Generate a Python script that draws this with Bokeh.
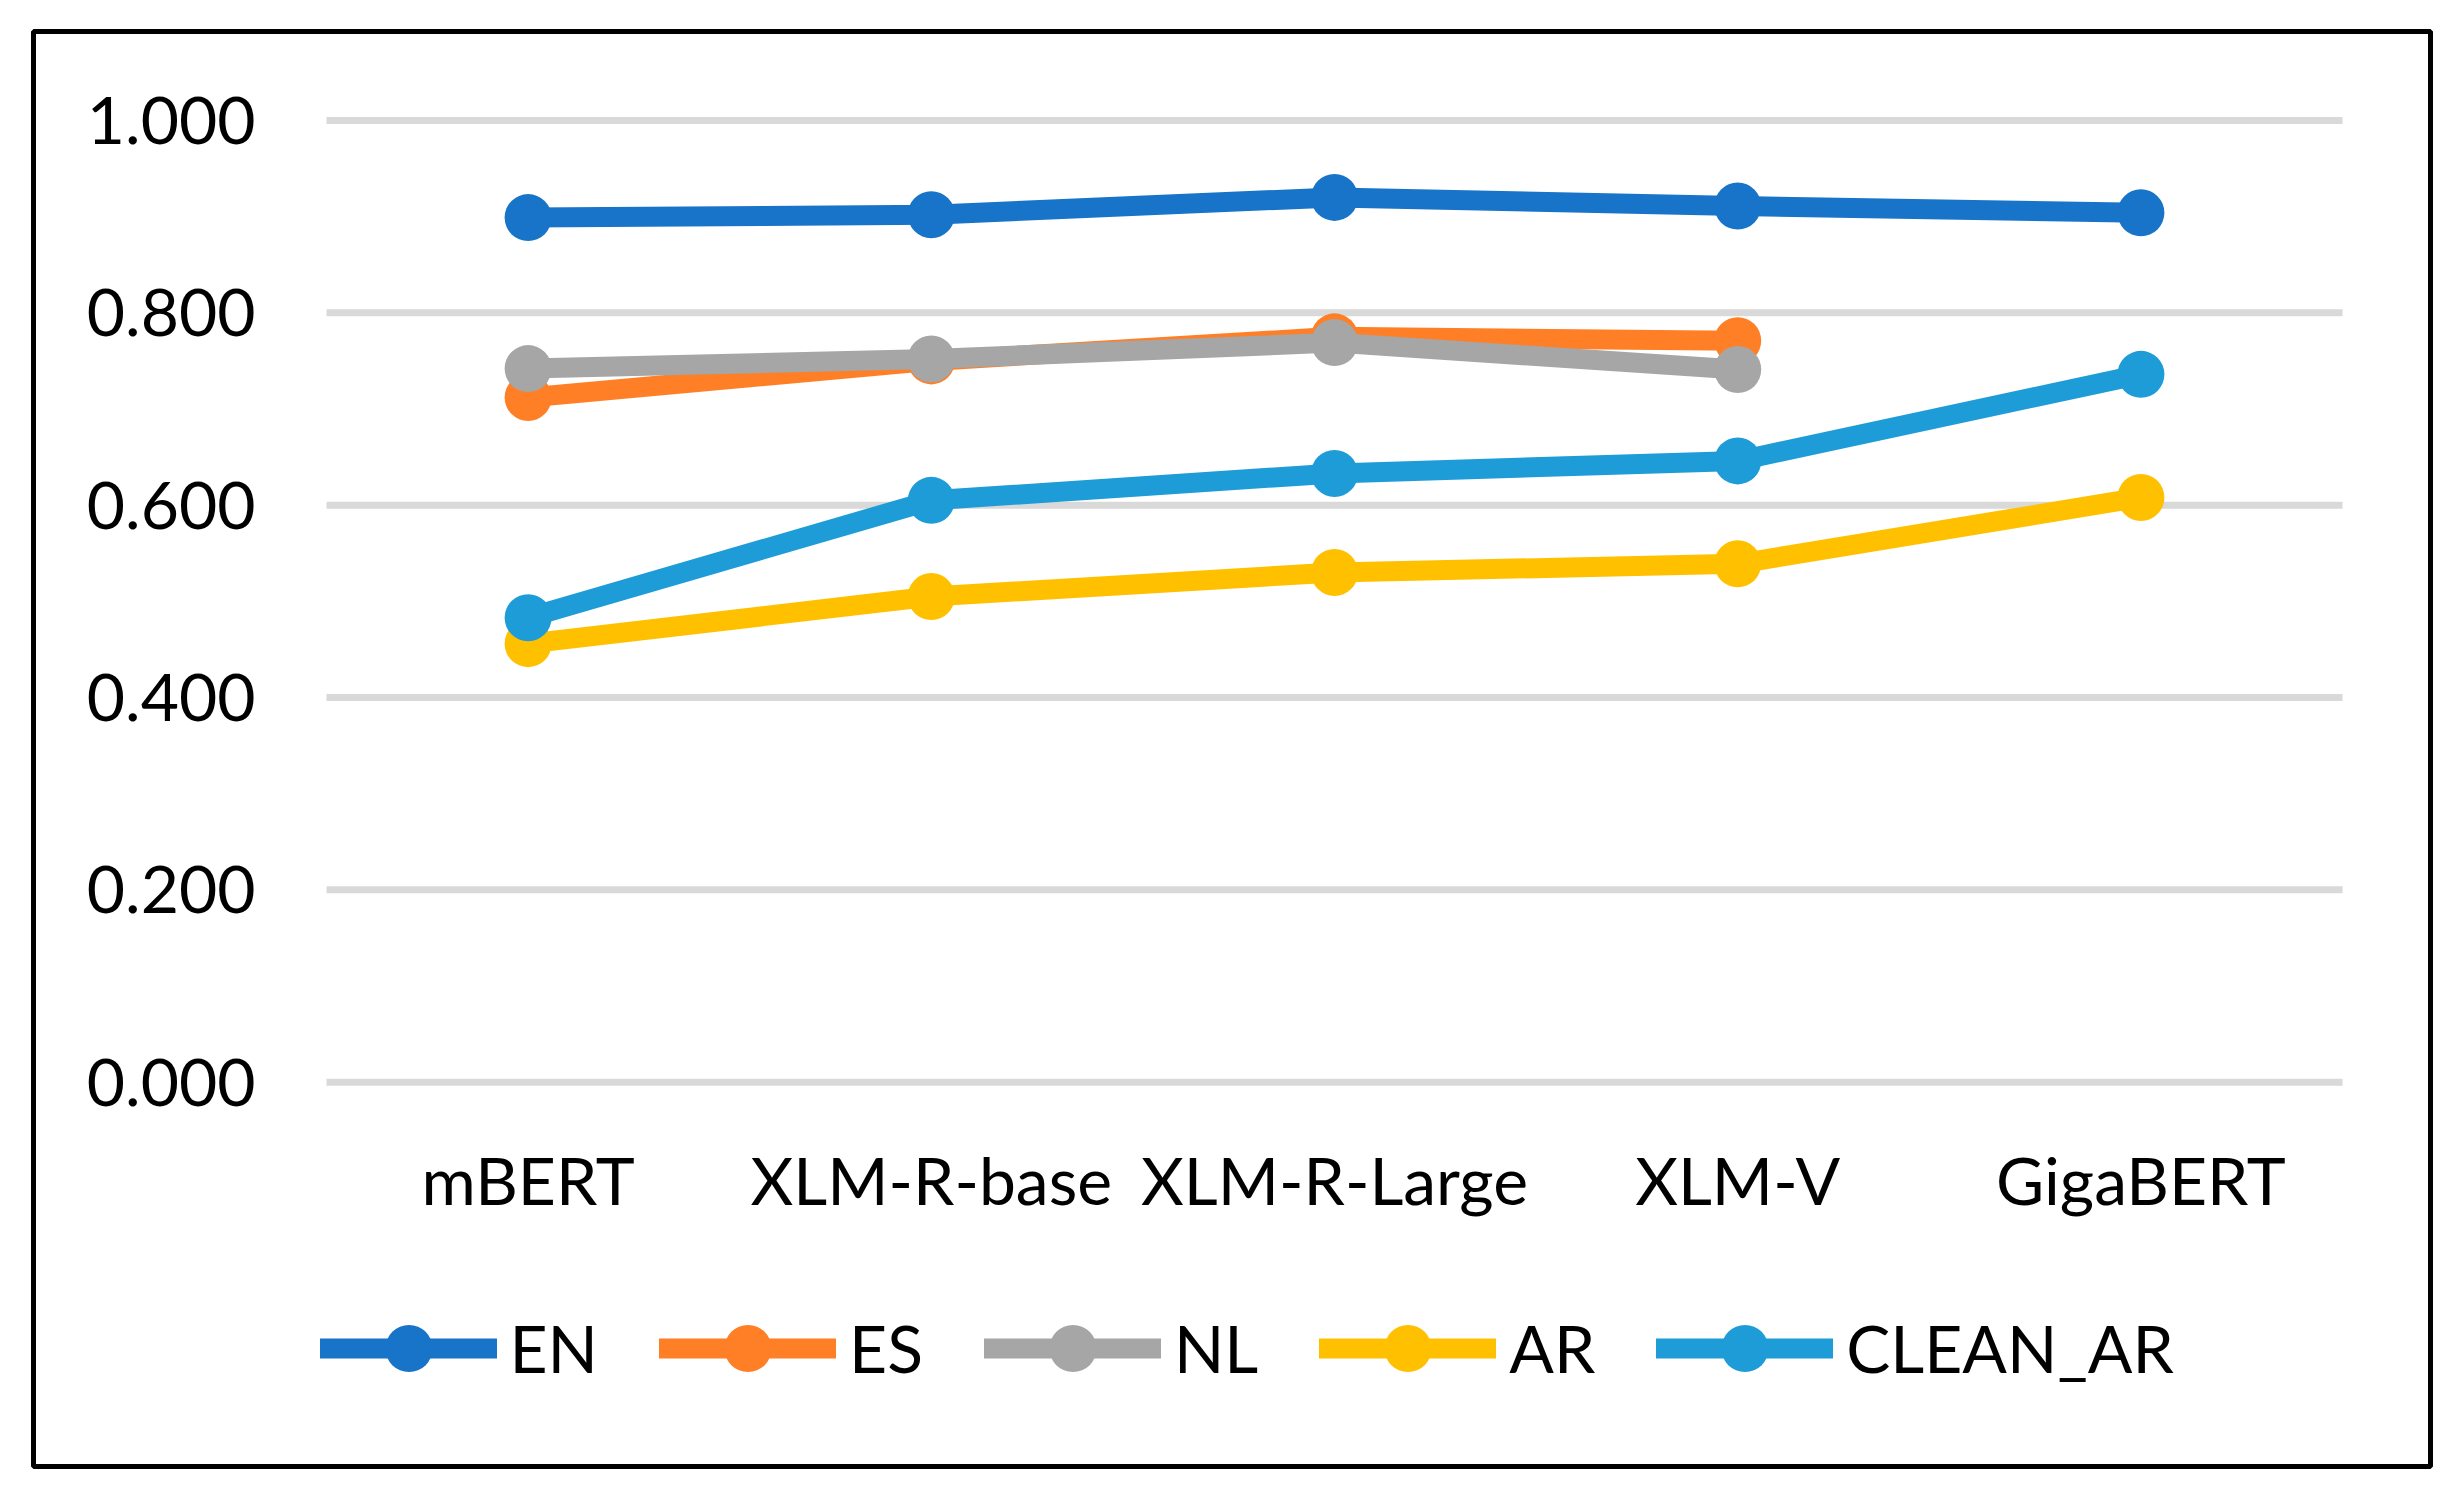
from bokeh.plotting import figure
from bokeh.models import Range1d, Legend, LegendItem
from bokeh.core.properties import value
from bokeh.embed import file_html
from bokeh.resources import INLINE

# ---- data ----
models = ["mBERT", "XLM-R-base", "XLM-R-Large", "XLM-V", "GigaBERT"]
en = [0.899, 0.902, 0.920, 0.911, 0.904]
es = [0.712, 0.750, 0.775, 0.771, None]
nl = [0.742, 0.752, 0.769, 0.741, None]
ar = [0.456, 0.505, 0.530, 0.539, 0.608]
clean_ar = [0.483, 0.605, 0.633, 0.646, 0.736]
series_names = ["EN", "ES", "NL", "AR", "CLEAN_AR"]
y_ticks = [0.0, 0.2, 0.4, 0.6, 0.8, 1.0]

colors = ["#1874C8", "#FF7F27", "#A6A6A6", "#FFC000", "#1E9CD7"]
FONT = "Lato"
FS = "66px"

# category positions (band centres) on a numeric x scale
xpos = list(range(len(models)))

# The frame is the whole bordered chart box; the plot area sits inside it.
p = figure(width=2440, height=1476,
           x_range=Range1d(-1.2267, 4.7182),
           y_range=Range1d(-0.3996, 1.0925),
           x_axis_location=None, y_axis_location=None,
           output_backend="svg", toolbar_location=None,
           min_border_left=33, min_border_right=10,
           min_border_top=31, min_border_bottom=10)

p.background_fill_color = "white"
p.border_fill_color = "white"
p.outline_line_color = "black"
p.outline_line_width = 5
p.grid.visible = False

# horizontal gridlines across the category bands
x_lo = xpos[0] - 0.5
x_hi = xpos[-1] + 0.5
p.segment(x0=[x_lo] * len(y_ticks), x1=[x_hi] * len(y_ticks), y0=y_ticks, y1=y_ticks,
          line_color="#D9D9D9", line_width=7)

# value-axis tick labels
p.text(x=[x_lo] * len(y_ticks), y=y_ticks, text=[f"{t:.3f}" for t in y_ticks],
       x_offset=-71, text_align="right", text_baseline="middle",
       text_font=value(FONT), text_font_size=FS, text_color="black")

# category-axis labels
p.text(x=xpos, y=[0.0] * len(models), text=models,
       y_offset=97, text_align="center", text_baseline="alphabetic",
       text_font=value(FONT), text_font_size=FS, text_color="black")

items = []
for name, vals, col in zip(series_names, [en, es, nl, ar, clean_ar], colors):
    xs = [x for x, v in zip(xpos, vals) if v is not None]
    ys = [v for v in vals if v is not None]
    lr = p.line(xs, ys, line_color=col, line_width=20, line_join="round", line_cap="round")
    sr = p.scatter(xs, ys, size=47, fill_color=col, line_color=col, line_width=0)
    items.append(LegendItem(label=name, renderers=[lr, sr]))

legend = Legend(items=items, location=(286.5, 59.3), orientation="horizontal",
                glyph_width=177, glyph_height=118, label_standoff=13, spacing=61,
                padding=0, margin=0, border_line_alpha=0, background_fill_alpha=0,
                label_text_font=FONT, label_text_font_size=FS, label_text_color="black")
p.add_layout(legend)

open("out.html", "w").write(file_html(p, INLINE))
